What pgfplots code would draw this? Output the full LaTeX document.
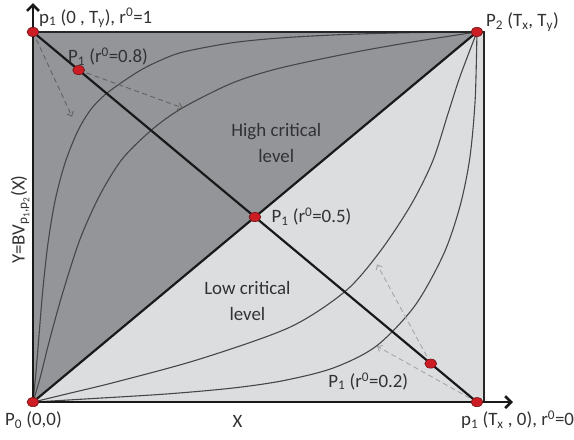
\documentclass[border=0pt]{standalone}
\usepackage{fontspec}
\setmainfont{Carlito}
\usepackage{pgfplots}
\pgfplotsset{compat=1.18}
\usetikzlibrary{arrows.meta}

\definecolor{darkfill}{RGB}{148,149,153}
\definecolor{lightfill}{RGB}{220,221,223}
\definecolor{curvegray}{RGB}{70,70,72}
\definecolor{dotred}{RGB}{204,28,36}
\definecolor{dotedge}{RGB}{110,18,20}
\definecolor{txt}{RGB}{50,50,52}

\tikzset{lab/.style={font=\fontsize{19}{24}\selectfont, text=txt, inner sep=0pt}}

\begin{document}
\begin{tikzpicture}
\begin{axis}[
  width=574bp, height=440bp, scale only axis, hide axis,
  xmin=-0.0742, xmax=1.2157, ymin=-0.0997, ymax=1.0863,
  clip=false,
]
\path (rel axis cs:0,0) rectangle (rel axis cs:1,1);
% regions
\addplot[fill=darkfill, draw=none] coordinates {(0,0) (0,1) (1,1)} -- cycle;
\addplot[fill=lightfill, draw=none] coordinates {(0,0) (1,1) (1.016,1) (1.016,0)} -- cycle;
% curves above the diagonal
\addplot[curvegray, line width=1.1pt, smooth] coordinates {
 (0,0) (0.006,0.07) (0.013,0.17) (0.022,0.30) (0.034,0.43) (0.05,0.545) (0.072,0.645)
 (0.10,0.73) (0.13,0.79) (0.168,0.836) (0.24,0.895) (0.3,0.93) (0.346,0.948)
 (0.45,0.971) (0.56,0.984) (0.7,0.993) (0.85,0.998) (1,1)};
\addplot[curvegray, line width=1.1pt, smooth] coordinates {
 (0,0) (0.016,0.065) (0.038,0.17) (0.067,0.295) (0.106,0.44) (0.151,0.56) (0.202,0.658)
 (0.27,0.738) (0.337,0.795) (0.449,0.862) (0.555,0.902) (0.715,0.943) (0.85,0.972)
 (1,1)};
% curves below the diagonal
\addplot[curvegray, line width=1.1pt, smooth] coordinates {
 (0,0) (0.112,0.008) (0.301,0.022) (0.45,0.038) (0.564,0.058) (0.676,0.092)
 (0.773,0.151) (0.86,0.26) (0.925,0.40) (0.962,0.53) (0.984,0.66) (0.996,0.817) (1,1)};
\addplot[curvegray, line width=1.1pt, smooth] coordinates {
 (0,0) (0.076,0.022) (0.189,0.055) (0.375,0.116) (0.578,0.202) (0.703,0.299)
 (0.78,0.404) (0.85,0.53) (0.9,0.65) (0.935,0.78) (0.962,0.88) (1,1)};
% dashed arrows
\addplot[curvegray!85, line width=0.9pt, dash pattern=on 5pt off 3.5pt, -{Straight Barb[length=4pt,width=7pt]}]
  coordinates {(0,1) (0.088,0.771)};
\addplot[curvegray!85, line width=0.9pt, dash pattern=on 5pt off 3.5pt, -{Straight Barb[length=4pt,width=7pt]}]
  coordinates {(0.103,0.897) (0.337,0.795)};
\addplot[gray!70, line width=0.9pt, dash pattern=on 5pt off 3.5pt, -{Straight Barb[length=4pt,width=7pt]}]
  coordinates {(0.896,0.104) (0.775,0.372)};
\addplot[gray!70, line width=0.9pt, dash pattern=on 5pt off 3.5pt, -{Straight Barb[length=4pt,width=7pt]}]
  coordinates {(1,0) (0.775,0.151)};
% diagonals
\addplot[black!90, line width=2.2pt] coordinates {(0,0) (1,1)};
\addplot[black!90, line width=2.2pt] coordinates {(0,1) (1,0)};
% frame
\addplot[black!85, line width=2.2pt] coordinates {(0,1) (1.016,1) (1.016,0)};
\draw[black!90, line width=2.6pt, -{Straight Barb[length=6pt,width=12pt]}] (axis cs:0,0) -- (axis cs:0,1.078);
\draw[black!90, line width=2.6pt, -{Straight Barb[length=6pt,width=12pt]}] (axis cs:0,0) -- (axis cs:1.081,0);
% control points
\addplot[only marks, mark=*, mark size=4.6pt,
  mark options={fill=dotred, draw=dotedge, line width=0.6pt, xscale=1.3}]
  coordinates {(0,0) (0,1) (1,1) (1,0) (0.103,0.897) (0.5,0.5) (0.896,0.104)};
% labels
\node[lab, anchor=west] at (axis cs:0.0135,1.0377) {p\textsubscript{1} (0 , T\textsubscript{y}), r\textsuperscript{0}=1};
\node[lab, anchor=west] at (axis cs:0.0787,0.9326) {P\textsubscript{1} (r\textsuperscript{0}=0.8)};
\node[lab, anchor=west] at (axis cs:1.0202,1.027) {P\textsubscript{2} (T\textsubscript{x}, T\textsubscript{y})};
\node[lab, align=center] at (axis cs:0.548,0.701) {High critical\\[2pt]level};
\node[lab, anchor=west] at (axis cs:0.537,0.501) {P\textsubscript{1} (r\textsuperscript{0}=0.5)};
\node[lab, align=center] at (axis cs:0.483,0.274) {Low critical\\[2pt]level};
\node[lab, anchor=west] at (axis cs:0.665,0.0566) {P\textsubscript{1} (r\textsuperscript{0}=0.2)};
\node[lab, anchor=west] at (axis cs:-0.0629,-0.0485) {P\textsubscript{0} (0,0)};
\node[lab] at (axis cs:0.4607,-0.0512) {X};
\node[lab, anchor=west] at (axis cs:0.964,-0.0485) {p\textsubscript{1} (T\textsubscript{x} , 0), r\textsuperscript{0}=0};
\node[lab, rotate=90] at (axis cs:-0.029,0.493) {Y=BV\textsubscript{p\textsubscript{1},p\textsubscript{2}}(X)};
\end{axis}
\end{tikzpicture}
\end{document}
